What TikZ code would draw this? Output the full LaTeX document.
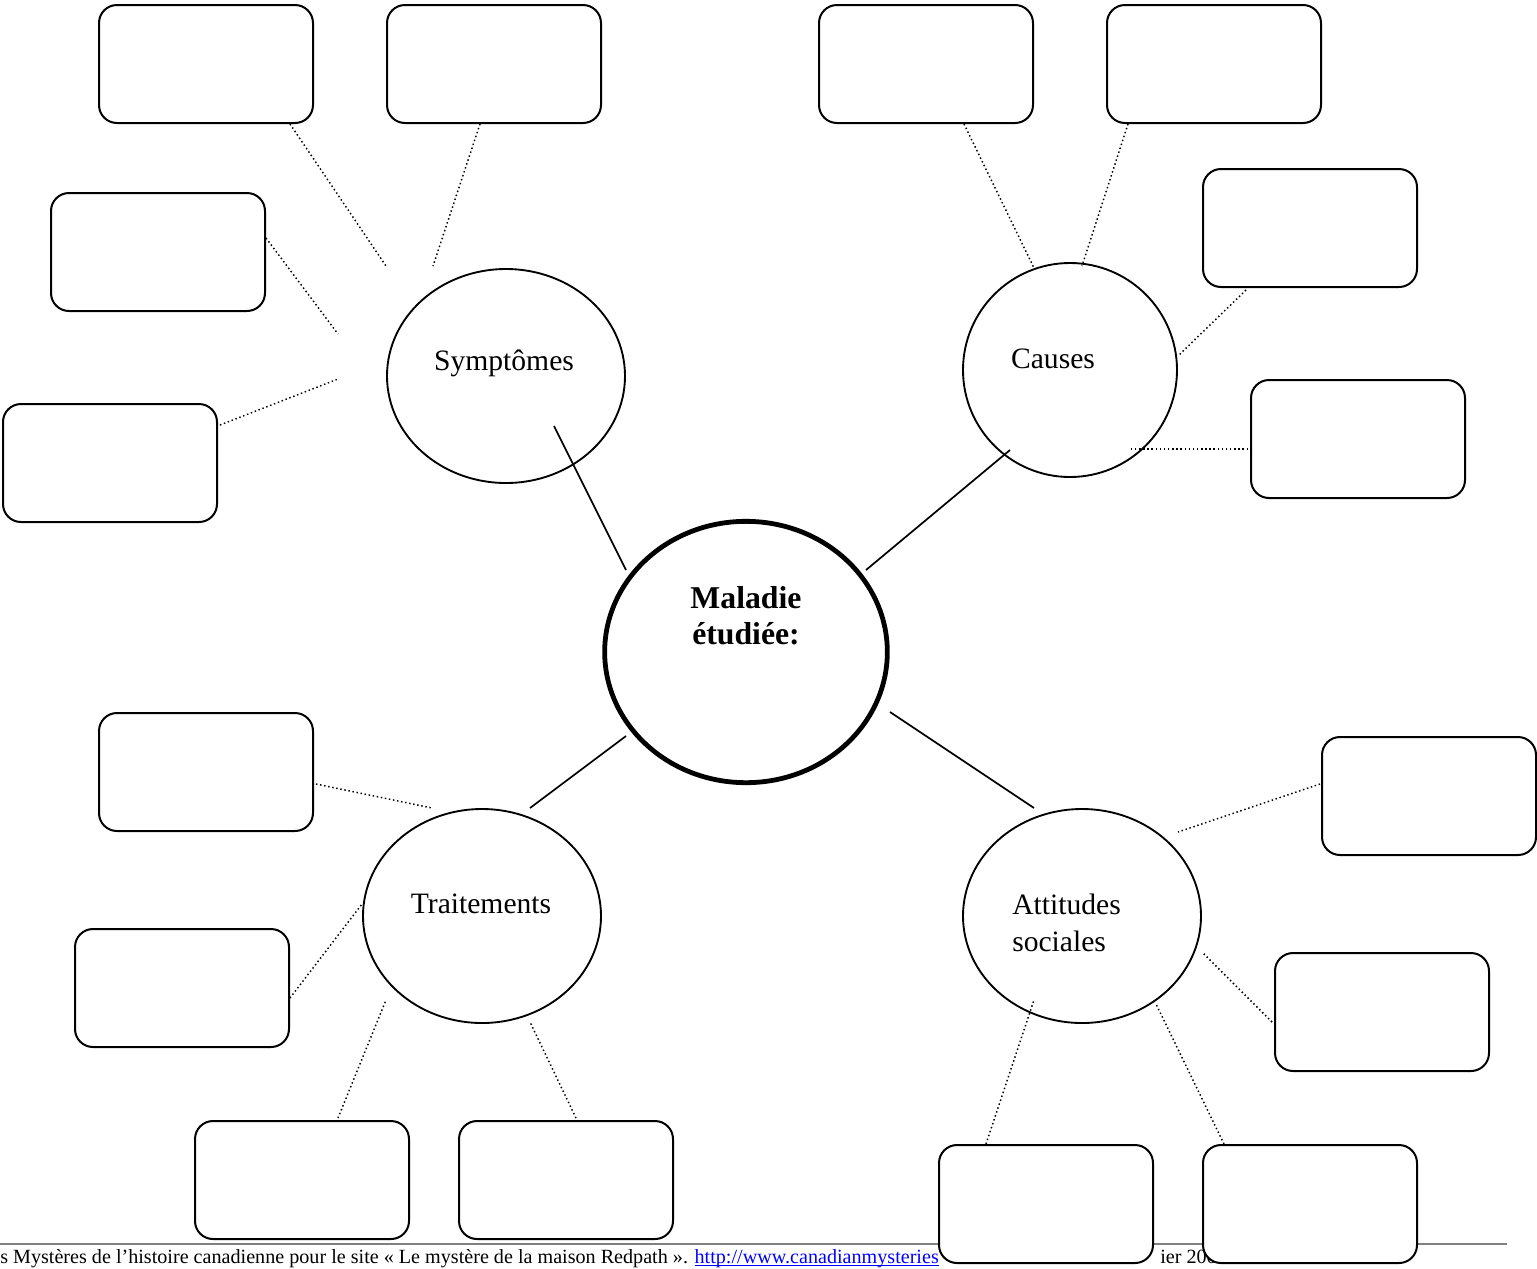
\documentclass[tikz,border=0pt]{standalone}
\usepackage{fontspec}
\setmainfont{Liberation Serif}
\usetikzlibrary{shapes.geometric}
\newcommand\myulink[1]{\setbox0\hbox{#1}\rlap{\rule[-2.4pt]{\wd0}{1pt}}\box0}
\tikzset{
  box/.style={draw, line width=1.5pt, rounded corners=13.5pt, fill=white,
    minimum width=160.5pt, minimum height=88.5pt, inner sep=0pt},
  topic/.style={draw, ellipse, line width=1.4pt, fill=white, inner sep=0pt,
    minimum width=178.5pt, minimum height=160.5pt},
  centre/.style={draw, ellipse, line width=3.6pt, fill=white, inner sep=0pt,
    minimum width=212pt, minimum height=196pt},
  lbl/.style={font=\fontsize{22.2}{28}\selectfont, inner sep=0pt, align=left},
  mainlbl/.style={font=\fontsize{23.8}{27}\selectfont\bfseries, inner sep=0pt, align=center},
  solidline/.style={line width=1.3pt},
  dotline/.style={line width=1.1pt, dash pattern=on 1.1pt off 2pt},
  foot/.style={font=\fontsize{15.1}{16}\selectfont, inner sep=0pt, anchor=base west}
}
\begin{document}
\begin{tikzpicture}[x=0.75pt, y=-0.75pt]
\useasboundingbox (0,0) rectangle (1537,1268);
% footer
\coordinate (fl) at (0,1244);
\coordinate (fr) at (1507,1244);
\draw[line width=2pt, gray] (fl) -- (fr);
\node[foot] (ftext) at (0,1263) {s Mystères de l’histoire canadienne pour le site « Le mystère de la maison Redpath ». \textcolor{blue}{\myulink{http://www.canadianmysteries}}};
\node[foot] (fdate) at (1160,1263) {ier 2008};

% connector end points
\coordinate (s1a) at (290,124);  \coordinate (s1b) at (386,266);
\coordinate (s2a) at (480,124);  \coordinate (s2b) at (433,266);
\coordinate (s3a) at (266,238);  \coordinate (s3b) at (338,334);
\coordinate (s4a) at (220,425);  \coordinate (s4b) at (338,379);
\coordinate (c1a) at (964,124);  \coordinate (c1b) at (1034,268);
\coordinate (c2a) at (1128,124); \coordinate (c2b) at (1082,266);
\coordinate (c3a) at (1246,290); \coordinate (c3b) at (1178,356);
\coordinate (c4a) at (1248,449); \coordinate (c4b) at (1130,449);
\coordinate (t1a) at (316,784);  \coordinate (t1b) at (432,808);
\coordinate (t2a) at (290,998);  \coordinate (t2b) at (362,904);
\coordinate (t3a) at (338,1118); \coordinate (t3b) at (386,1000);
\coordinate (t4a) at (576,1118); \coordinate (t4b) at (530,1022);
\coordinate (a1a) at (1320,784); \coordinate (a1b) at (1178,832);
\coordinate (a2a) at (1272,1022);\coordinate (a2b) at (1202,952);
\coordinate (a3a) at (986,1144); \coordinate (a3b) at (1034,1000);
\coordinate (a4a) at (1224,1144);\coordinate (a4b) at (1156,1004);
\coordinate (m1a) at (554,426);  \coordinate (m1b) at (626,570);
\coordinate (m2a) at (1010,450); \coordinate (m2b) at (866,570);
\coordinate (m3a) at (530,808);  \coordinate (m3b) at (626,736);
\coordinate (m4a) at (1034,808); \coordinate (m4b) at (890,712);

% ellipses
\node[topic] (symp) at (506,376) {};
\node[topic, minimum width=160.5pt] (caus) at (1070,370) {};
\node[topic] (trait) at (482,916) {};
\node[topic] (att) at (1082,916) {};
\node[centre] (mal) at (746,652) {};

% boxes
\node[box] (b1) at (206,64) {};
\node[box] (b2) at (494,64) {};
\node[box] (b3) at (158,252) {};
\node[box] (b4) at (110,463) {};
\node[box] (k1) at (926,64) {};
\node[box] (k2) at (1214,64) {};
\node[box] (k3) at (1310,228) {};
\node[box] (k4) at (1358,439) {};
\node[box] (r1) at (206,772) {};
\node[box] (r2) at (182,988) {};
\node[box] (r3) at (302,1180) {};
\node[box] (r4) at (566,1180) {};
\node[box] (q1) at (1429,796) {};
\node[box] (q2) at (1382,1012) {};
\node[box] (q3) at (1046,1204) {};
\node[box] (q4) at (1310,1204) {};

% labels
\node[lbl] (lsymp) at (504,363) {Symptômes};
\node[lbl] (lcaus) at (1053,359) {Causes};
\node[lbl] (ltrait) at (481,904) {Traitements};
\node[lbl, anchor=west] (latt) at (1012,923) {Attitudes\\sociales};
\node[mainlbl] (lmal) at (746,616) {Maladie\\étudiée:};

% solid connectors
\draw[solidline] (m1a) -- (m1b);
\draw[solidline] (m2a) -- (m2b);
\draw[solidline] (m3a) -- (m3b);
\draw[solidline] (m4a) -- (m4b);

% dotted connectors
\foreach \p in {s1,s2,s3,s4,c1,c2,c3,c4,t1,t2,t3,t4,a1,a2,a3,a4}
  \draw[dotline] (\p a) -- (\p b);
\end{tikzpicture}
\end{document}
